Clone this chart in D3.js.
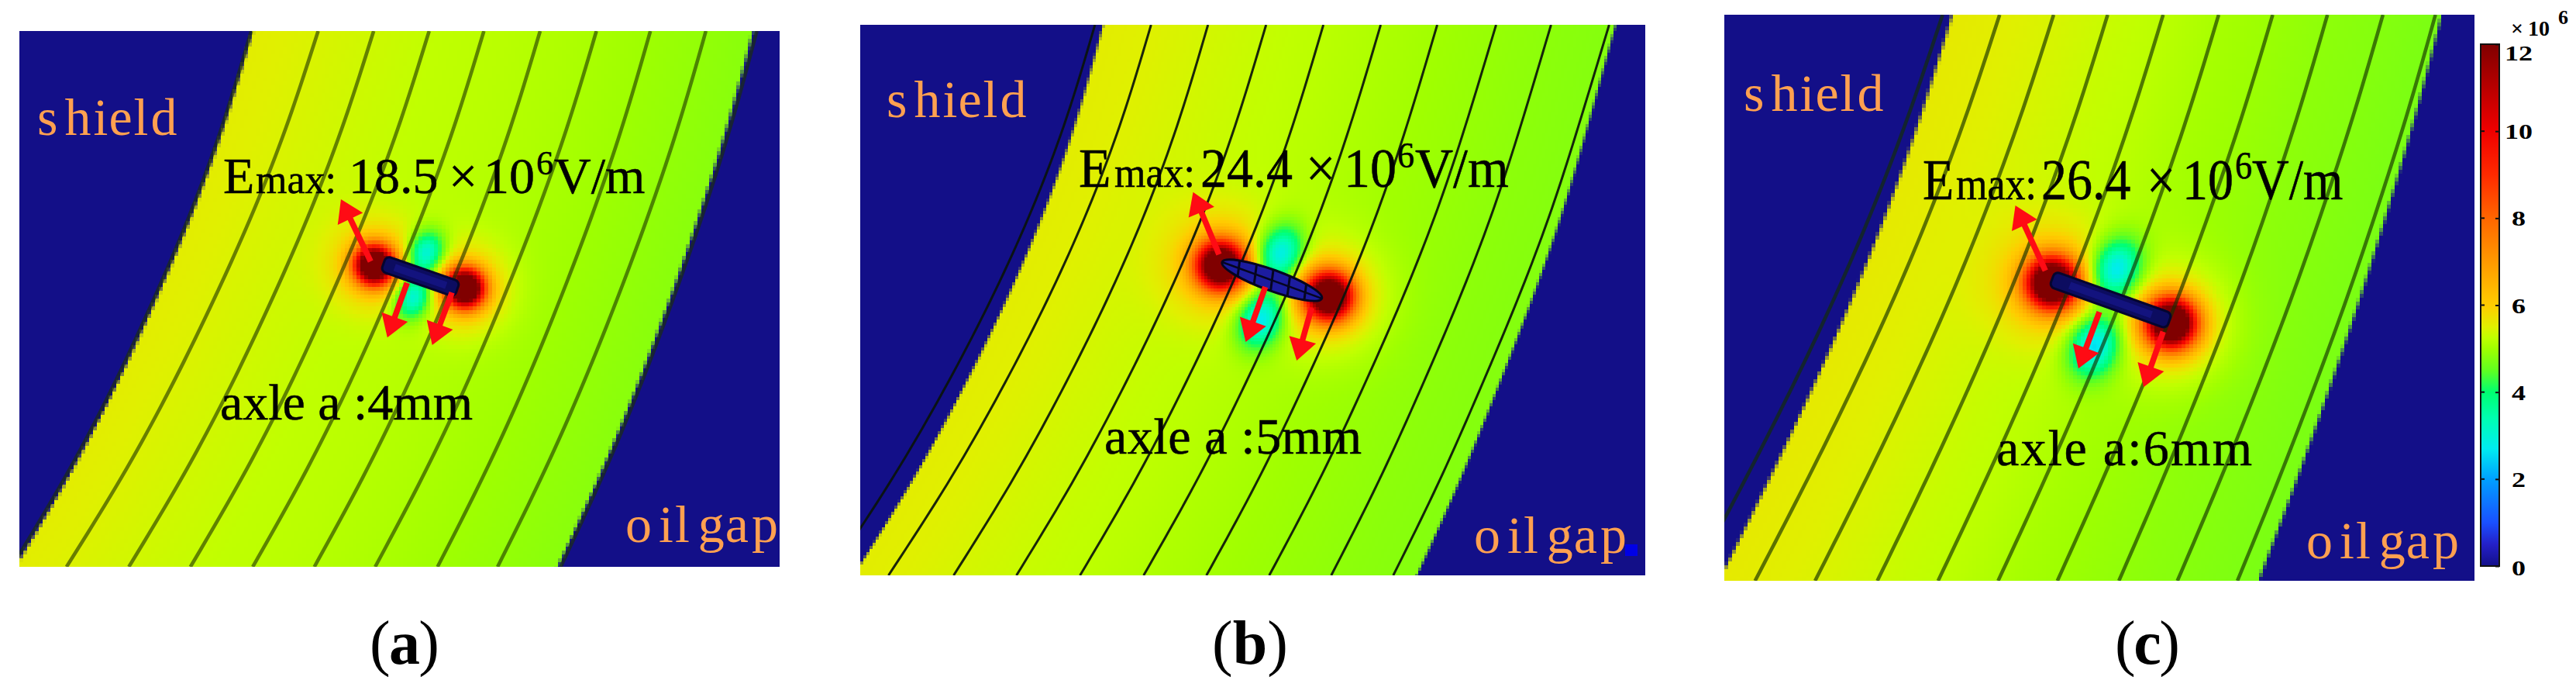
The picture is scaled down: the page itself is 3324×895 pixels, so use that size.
<!DOCTYPE html>
<html><head><meta charset="utf-8">
<style>html,body{margin:0;padding:0;background:#fff}svg{display:block}text{font-family:"Liberation Serif",serif}</style>
<script src="https://cdn.jsdelivr.net/npm/d3@7"></script></head><body>
<script>
// ---------- values (x, y in % of a panel) ----------
const colorTicks = [0,2,4,6,8,10,12];
const colorStops  = [0,0.5,1,2,2.7,3.4,4,4.5,5,5.25,5.5,6,7,8,9,10,11,12];
const colorValues = ["#130f88","#2420c8","#1a50ff","#00a0ff","#00ecf0","#00ffb0","#00ff70","#60ff20","#a0ff00","#c0ff00","#e0f000","#ffcc00","#ff9900","#ff6600","#ff2a00","#f00000","#b80000","#800000"];

const leftEdgeA  = [30.7,27.3,23.1,18.1,12.7,6.6,-0.5];
const rightEdgeA = [96.5,93.4,89.7,85.6,81.2,76.3,70.8];
const linesTopA    = [30.5,39.3,46.6,53.9,61.1,68.5,75.9,83.0,90.3,97.0];
const linesBottomA = [-1.0,6.2,14.4,22.5,30.7,38.8,46.8,55.0,62.9,71.2];
const bandA = [5.55,5.45,5.35,5.25,5.2,5.12,5.02,4.92,4.82];

const leftEdgeB  = [30.96,27.86,23.76,18.76,13.0,6.6,-0.84];
const rightEdgeB = [96.2,93.0,89.7,85.6,81.0,76.3,70.9];
const linesTopB    = [29.9,37.05,44.3,51.7,59.0,66.3,73.5,81.0,88.0,95.4];
const linesBottomB = [-4.0,3.6,11.9,19.9,28.0,36.1,44.1,52.1,60.0,67.9];
const bandB = [5.55,5.48,5.38,5.28,5.2,5.1,5.0,4.92,4.84,4.78];

const leftEdgeC  = [30.4,26.6,22.2,17.2,11.6,5.6,-0.7];
const rightEdgeC = [95.6,92.4,88.7,84.8,80.5,76.0,71.2];
const linesTopC    = [29.1,36.7,43.9,51.1,58.5,65.9,73.1,80.4,87.8,94.8];
const linesBottomC = [-4.4,4.1,12.1,20.4,28.5,36.5,44.4,52.6,60.4,68.4];
const bandC = [5.6,5.52,5.42,5.3,5.2,5.05,4.95,4.85,4.78,4.7];

// arrows: [fromX, fromY, tipX, tipY]
const arrowsA = [[46.2,43.0,42.3,31.4],[51.0,47.0,48.4,57.2],[56.9,48.8,54.3,58.6]];
const arrowsB = [[45.7,41.7,42.4,30.4],[51.6,47.6,49.1,57.6],[57.5,51.4,55.6,61.0]];
const arrowsC = [[42.8,45.2,38.8,33.7],[50.0,52.5,47.2,62.5],[58.5,56.0,55.9,65.8]];
// defect: [tip1X, tip1Y, tip2X, tip2Y]
const defectA = [47.9,43.4,57.6,48.2];
const defectB = [46.1,43.1,58.8,49.7];
const defectC = [43.7,46.7,59.3,54.1];
// field peaks: [x, y, amount]
const hotA  = [[46.7,43.7,10],[58.6,48.0,10]];
const coldA = [[53.5,41.5,-2.6],[51.8,49.6,-2.6]];
const hotB  = [[45.9,43.7,9.5],[59.7,49.3,9.5]];
const coldB = [[53.5,41.7,-2.8],[51.0,53.4,-2.8]];
const hotC  = [[43.7,47.4,10],[59.6,54.5,10]];
const coldC = [[52.2,45.1,-2.8],[49.3,58.4,-2.8]];

const labelShield = "shield", labelGap = "oil gap";

// ---------- layout ----------
const W = 3324, H = 895;
const navy = "#130f88", orange = "#ffa050";
const panels = [
 {id:"a",x0:25,x1:1006,y0:40,y1:731,block:5,left:leftEdgeA,right:rightEdgeA,top:linesTopA,bottom:linesBottomA,band:bandA,arrows:arrowsA,defect:defectA,hot:hotA,cold:coldA,
  lineColor:"#1c3000",lineOp:.6,lineW:4.6,thick:21,sigH:16,sigA:16,sigP:20,mesh:false,
  shield:[48,174],gap:[807,699],
  emax:{E:288,max:330,y:249,sy:1,fs:66,val:"18.5",valX:450,times:579,ten:624,six:692,sixY:-24,unit:715},
  axle:{t:"axle a :4mm",x:284,y:541,w:326},cap:{x:477,w:90,t:"a"}},
 {id:"b",x0:1110,x1:2123,y0:32,y1:742,block:4,left:leftEdgeB,right:rightEdgeB,top:linesTopB,bottom:linesBottomB,band:bandB,arrows:arrowsB,defect:defectB,hot:hotB,cold:coldB,
  lineColor:"#0a140a",lineOp:.92,lineW:3,thick:27,sigH:20,sigA:20,sigP:26,mesh:true,
  shield:[1144,151],gap:[1902,713],
  emax:{E:1392,max:1438,y:241,sy:1.05,fs:68,val:"24.4",valX:1549,times:1685,ten:1734,six:1803,sixY:-24,unit:1826},
  axle:{t:"axle a :5mm",x:1425,y:585,w:332},cap:{x:1564,w:98,t:"b"}},
 {id:"c",x0:2225,x1:3193,y0:19,y1:749,block:5,left:leftEdgeC,right:rightEdgeC,top:linesTopC,bottom:linesBottomC,band:bandC,arrows:arrowsC,defect:defectC,hot:hotC,cold:coldC,
  lineColor:"#143000",lineOp:.65,lineW:4.6,thick:21,sigH:21,sigA:22,sigP:28,mesh:false,
  shield:[2250,143],gap:[2976,720],
  emax:{E:2481,max:2524,y:257,sy:1.13,fs:66,val:"26.4",valX:2634,times:2770,ten:2816,six:2884,sixY:-24,unit:2906},
  axle:{t:"axle a:6mm",x:2576,y:600,w:330},cap:{x:2729,w:84,t:"c"}}
];

const color = d3.scaleLinear().domain(colorStops).range(colorValues).clamp(true);
const svg = d3.select("body").append("svg").attr("width",W).attr("height",H).attr("viewBox",`0 0 ${W} ${H}`);
const defs = svg.append("defs");
const navyRgb = d3.rgb(navy);

panels.forEach(p=>{
  const x = d3.scaleLinear().domain([0,100]).range([p.x0,p.x1]);
  const y = d3.scaleLinear().domain([0,100]).range([p.y0,p.y1]);
  const L = d3.interpolateBasis(p.left), R = d3.interpolateBasis(p.right);
  const layer = d3.scaleLinear().domain(p.band.map((_,i)=>i/(p.band.length-1))).range(p.band);
  const ang = Math.atan2(y(p.defect[3])-y(p.defect[1]), x(p.defect[2])-x(p.defect[0]));
  const ca = Math.cos(ang), sa = Math.sin(ang);

  // field raster
  const pw = p.x1-p.x0, ph = p.y1-p.y0, nx = Math.ceil(pw/p.block), ny = Math.ceil(ph/p.block);
  const cv = document.createElement("canvas"); cv.width=nx; cv.height=ny;
  const ctx = cv.getContext("2d"), img = ctx.createImageData(nx,ny);
  for(let j=0;j<ny;j++){
    const py = p.y0+(j+.5)*p.block, f = (py-p.y0)/ph;
    const lx = x(L(f)), rx = x(R(f));
    for(let i=0;i<nx;i++){
      const px = p.x0+(i+.5)*p.block;
      const t = (px-lx)/(rx-lx);
      let v = layer(Math.max(0,Math.min(1,t)));
      p.hot.forEach(h=>{const dx=px-x(h[0]),dy=py-y(h[1]),r2=dx*dx+dy*dy,s=p.sigH;
        v+=h[2]*Math.exp(-r2/(2*s*s))+h[2]*.13*Math.exp(-r2/(2*5.2*s*s));});
      p.cold.forEach(h=>{const dx=px-x(h[0]),dy=py-y(h[1]);const a=dx*ca+dy*sa,b=-dx*sa+dy*ca;v+=h[2]*Math.exp(-(a*a/(2*p.sigA*p.sigA)+b*b/(2*p.sigP*p.sigP)));});
      const c = d3.rgb(color(v));
      const d = Math.min(px-lx,rx-px), al = Math.max(0,Math.min(1,d/p.block+.5));
      const k = (i+j*nx)*4;
      img.data[k]  =c.r*al+navyRgb.r*(1-al);
      img.data[k+1]=c.g*al+navyRgb.g*(1-al);
      img.data[k+2]=c.b*al+navyRgb.b*(1-al);
      img.data[k+3]=255;
    }
  }
  ctx.putImageData(img,0,0);
  const g = svg.append("g").attr("id","panel-"+p.id);
  defs.append("clipPath").attr("id","clip-"+p.id).append("rect").attr("x",p.x0).attr("y",p.y0).attr("width",pw).attr("height",ph);
  g.append("image").attr("href",cv.toDataURL()).attr("x",p.x0).attr("y",p.y0).attr("width",nx*p.block).attr("height",ny*p.block)
    .attr("preserveAspectRatio","none").style("image-rendering","pixelated").attr("clip-path",`url(#clip-${p.id})`);
  if(p.id==="b") g.append("rect").attr("x",2097).attr("y",702).attr("width",16).attr("height",15).attr("fill","#0000e6");

  // layer lines
  const fr = d3.range(0,1.0001,1/60);
  const tAt = (v,f)=> (v-p.left[f])/(p.right[f]-p.left[f]);
  const last = p.left.length-1;
  const line = d3.line().x(d=>x(d[0])).y(d=>y(d[1])).curve(d3.curveLinear);
  const lg = g.append("g").attr("clip-path",`url(#clip-${p.id})`);
  lg.selectAll("path").data(p.top.map((v,i)=>{
      const t0=tAt(v,0), t1=tAt(p.bottom[i],last);
      return fr.map(f=>{const l=L(f), r=R(f); return [l+(r-l)*(t0+(t1-t0)*f), f*100];});
    })).join("path").attr("d",line).attr("fill","none")
    .attr("stroke",p.lineColor).attr("stroke-opacity",p.lineOp).attr("stroke-width",p.lineW);

  // defect
  const [dx0,dy0,dx1,dy1]=[x(p.defect[0]),y(p.defect[1]),x(p.defect[2]),y(p.defect[3])];
  const cx=(dx0+dx1)/2, cy=(dy0+dy1)/2, len=Math.hypot(dx1-dx0,dy1-dy0);
  const dg = g.append("g").attr("transform",`translate(${cx},${cy}) rotate(${ang*180/Math.PI})`);
  const rx=len/2, ry=p.thick/2;
  const clipId="def-"+p.id;
  defs.append("clipPath").attr("id",clipId).append("ellipse").attr("rx",rx).attr("ry",ry);
  if(p.mesh){
    dg.append("ellipse").attr("rx",rx).attr("ry",ry).attr("fill","#1c1ca0").attr("stroke","#050520").attr("stroke-width",3);
    const mg=dg.append("g").attr("clip-path",`url(#${clipId})`);
    mg.selectAll("line.v").data(d3.range(-2,3)).join("line").attr("x1",d=>d*len/6-3).attr("x2",d=>d*len/6+3).attr("y1",-ry).attr("y2",ry).attr("stroke","#050520").attr("stroke-width",3);
    mg.append("line").attr("x1",-rx).attr("x2",rx).attr("y1",0).attr("y2",0).attr("stroke","#050520").attr("stroke-width",2.5);
  } else {
    dg.append("rect").attr("x",-rx).attr("y",-ry).attr("width",2*rx).attr("height",2*ry).attr("rx",ry*.6).attr("fill","#0c0c60").attr("stroke","#05052e").attr("stroke-width",3);
    dg.append("rect").attr("x",-rx*.7).attr("y",-ry*.45).attr("width",1.4*rx).attr("height",ry*.9).attr("fill","#13137e");
  }

  // arrows
  const ag = g.append("g");
  p.arrows.forEach(a=>{
    const x0=x(a[0]),y0=y(a[1]),x1=x(a[2]),y1=y(a[3]);
    const u=Math.hypot(x1-x0,y1-y0),ux=(x1-x0)/u,uy=(y1-y0)/u,hl=28,hw=18;
    ag.append("line").attr("x1",x0).attr("y1",y0).attr("x2",x1-ux*hl*.8).attr("y2",y1-uy*hl*.8).attr("stroke","#ff0b14").attr("stroke-width",7.5);
    ag.append("path").attr("fill","#ff0b14").attr("d",d3.line()([[x1,y1],[x1-ux*hl-uy*hw,y1-uy*hl+ux*hw],[x1-ux*hl+uy*hw,y1-uy*hl-ux*hw]])+"Z");
  });

  // labels
  const fs=66;
  g.append("text").text(labelShield).attr("x",p.shield[0]).attr("y",p.shield[1]).attr("font-size",68).attr("fill",orange)
    .attr("dx","0 9 3 1 2 3");
  g.append("text").text(labelGap).attr("x",p.gap[0]).attr("y",p.gap[1]).attr("font-size",68).attr("fill",orange)
    .attr("dx","0 9 2 -3 -3 1 4");
  const e=p.emax;
  const et=g.append("text").attr("transform",`translate(0,${e.y}) scale(1,${e.sy})`).attr("font-size",e.fs).attr("fill","#000").attr("stroke","#000").attr("stroke-width",.5);
  et.append("tspan").attr("x",e.E).text("E");
  et.append("tspan").attr("x",e.max).attr("font-size",52).text("max:");
  et.append("tspan").attr("x",e.valX).text(e.val);
  et.append("tspan").attr("x",e.times).text("×");
  et.append("tspan").attr("x",e.ten).text("10");
  et.append("tspan").attr("x",e.six).attr("y",e.sixY).attr("font-size",44).text("6");
  et.append("tspan").attr("x",e.unit).attr("y",0).text("V/m");
  g.append("text").text(p.axle.t).attr("x",p.axle.x).attr("y",p.axle.y).attr("font-size",fs).attr("fill","#000").attr("stroke","#000").attr("stroke-width",.5)
    .attr("textLength",p.axle.w).attr("lengthAdjust","spacing");
  const ct=g.append("text").attr("x",p.cap.x).attr("y",856).attr("font-size",80).attr("fill","#000").attr("textLength",p.cap.w).attr("lengthAdjust","spacing");
  ct.append("tspan").text("(");
  ct.append("tspan").attr("font-weight","bold").text(p.cap.t);
  ct.append("tspan").text(")");
});

// colorbar
const cbX0=3201, cbX1=3225, cbY=d3.scaleLinear().domain([0,12]).range([730,57]);
const grad=defs.append("linearGradient").attr("id","cb").attr("x1",0).attr("x2",0).attr("y1",1).attr("y2",0);
grad.selectAll("stop").data(colorStops).join("stop").attr("offset",d=>d/12).attr("stop-color",d=>color(d));
const cb=svg.append("g").attr("id","colorbar");
cb.append("rect").attr("x",cbX0).attr("y",cbY(12)).attr("width",cbX1-cbX0).attr("height",cbY(0)-cbY(12)).attr("fill","url(#cb)").attr("stroke","#111").attr("stroke-width",2);
const ax=cb.append("g").attr("transform",`translate(${cbX1},0)`).call(d3.axisRight(cbY).tickValues(colorTicks).tickSize(-5).tickPadding(0));
ax.select(".domain").remove();
ax.selectAll("line").attr("stroke","#111").attr("stroke-width",2);
ax.selectAll("text").attr("x",25).attr("dy",null).attr("y",d=>d===12?11:(d===0?2:0)).attr("dominant-baseline","central").attr("text-anchor","middle")
  .attr("font-size",28).attr("font-weight","bold").attr("font-family","Liberation Serif").attr("fill","#000")
  .attr("textLength",d=>d>=10?36:18).attr("lengthAdjust","spacingAndGlyphs");
cb.append("g").selectAll("line").data(colorTicks.slice(1,-1)).join("line").attr("x1",cbX0).attr("x2",cbX0+5).attr("y1",d=>cbY(d)).attr("y2",d=>cbY(d)).attr("stroke","#111").attr("stroke-width",2);
const mult=cb.append("text").attr("y",46).attr("font-size",28).attr("font-weight","bold").attr("fill","#000");
mult.append("tspan").attr("x",3240).text("×");
mult.append("tspan").attr("x",3262).text("10");
mult.append("tspan").attr("x",3301).attr("y",31).attr("font-size",26).text("6");
</script></body></html>
